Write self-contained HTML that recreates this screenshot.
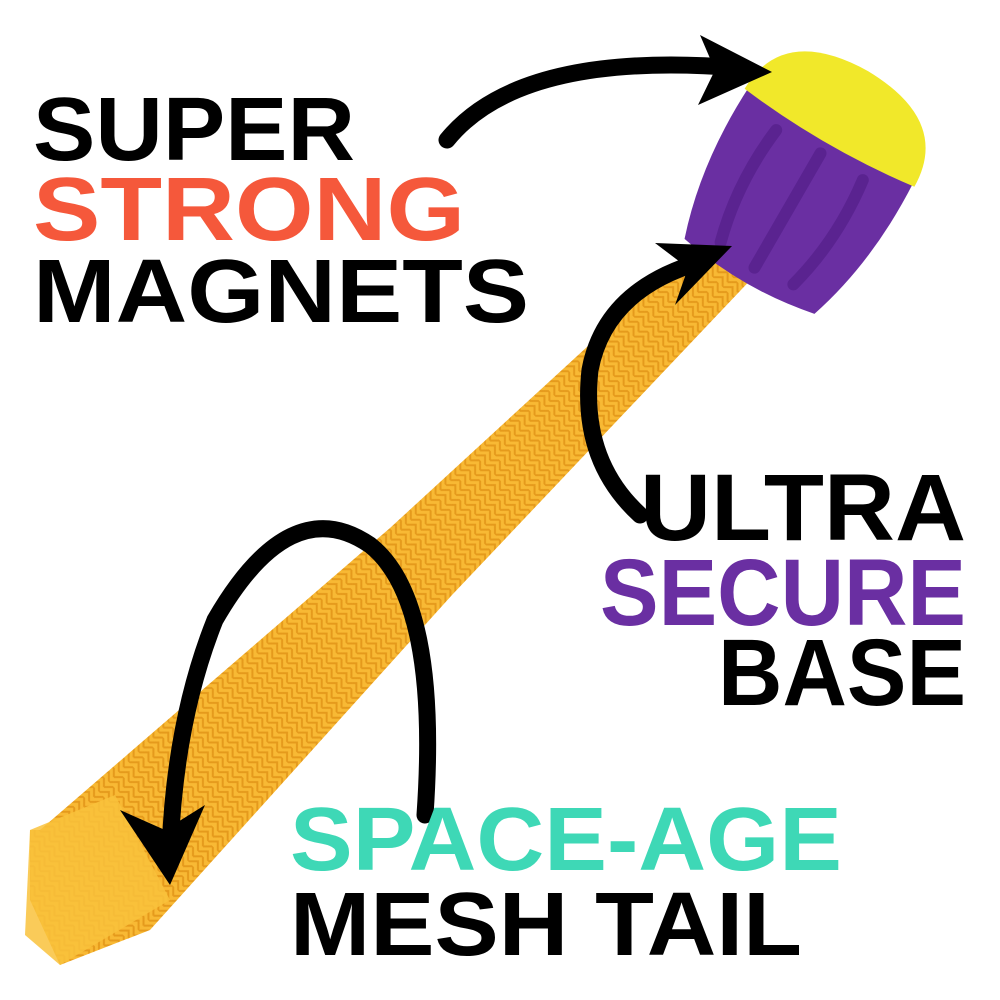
<!DOCTYPE html>
<html><head><meta charset="utf-8"><style>
html,body{margin:0;padding:0;background:#fff;}
svg{display:block}
text{font-family:"Liberation Sans",sans-serif;font-weight:bold;}
</style></head><body>
<svg width="1000" height="1000" viewBox="0 0 1000 1000" xmlns="http://www.w3.org/2000/svg">
<defs>
<pattern id="mesh" width="14" height="14" patternUnits="userSpaceOnUse" patternTransform="rotate(45)">
<rect width="14" height="14" fill="#F8B934"/>
<path d="M0 7 L7 0 L14 7 M0 14 L7 7 L14 14" stroke="#E59A1C" stroke-width="2" fill="none"/>
</pattern>
</defs>
<!-- tube -->
<polygon points="712,232 758,272 452,595 150,930 60,965 30,900 30,830 40,830 390,528" fill="url(#mesh)"/>
<polygon points="30,830 115,795 170,900 60,965 25,935" fill="#F9C23C" opacity="0.85"/>
<!-- head -->
<g transform="translate(752,272) rotate(30)">
<path d="M-75 5 Q-100 -70 -95 -160 L95 -160 Q100 -70 75 5 Q0 20 -75 5 Z" fill="#6A2FA2"/>
<path d="M-98 -155 Q-97 -230 0 -232 Q97 -230 98 -155 Q0 -143 -98 -155 Z" fill="#F1E82A"/>
<path d="M-50 -135 Q-58 -70 -42 -10" stroke="#5A2390" stroke-width="12" fill="none" stroke-linecap="round"/>
<path d="M0 -137 L0 -5" stroke="#5A2390" stroke-width="12" fill="none" stroke-linecap="round"/>
<path d="M50 -135 Q58 -70 42 -10" stroke="#5A2390" stroke-width="12" fill="none" stroke-linecap="round"/>
</g>
<!-- arrows -->
<g fill="none" stroke="#000" stroke-width="17" stroke-linecap="round">
<path d="M447 140 Q520 50 740 68"/>
<path d="M640 515 Q580 460 590 370 Q605 290 700 262"/>
<path d="M425 815 Q440 600 370 545 Q290 490 215 620 Q175 720 170 850"/>
</g>
<g fill="#000">
<polygon points="772,72 700,35 715,70 698,105"/>
<polygon points="732,246 655,243 688,268 675,305"/>
<polygon points="170,885 120,810 165,830 205,805"/>
</g>
<!-- text -->
<text x="33" y="160" font-size="90" textLength="322" lengthAdjust="spacingAndGlyphs" fill="#000">SUPER</text>
<text x="33" y="240" font-size="90" textLength="432" lengthAdjust="spacingAndGlyphs" fill="#F5583B">STRONG</text>
<text x="33" y="322" font-size="90" textLength="496" lengthAdjust="spacingAndGlyphs" fill="#000">MAGNETS</text>
<text x="640" y="540" font-size="95" textLength="326" lengthAdjust="spacingAndGlyphs" fill="#000">ULTRA</text>
<text x="600" y="625" font-size="95" textLength="366" lengthAdjust="spacingAndGlyphs" fill="#6A2FA2">SECURE</text>
<text x="718" y="705" font-size="95" textLength="248" lengthAdjust="spacingAndGlyphs" fill="#000">BASE</text>
<text x="290" y="870" font-size="90" textLength="552" lengthAdjust="spacingAndGlyphs" fill="#3ED8B6">SPACE-AGE</text>
<text x="290" y="955" font-size="90" textLength="512" lengthAdjust="spacingAndGlyphs" fill="#000">MESH TAIL</text>
</svg>
</body></html>
